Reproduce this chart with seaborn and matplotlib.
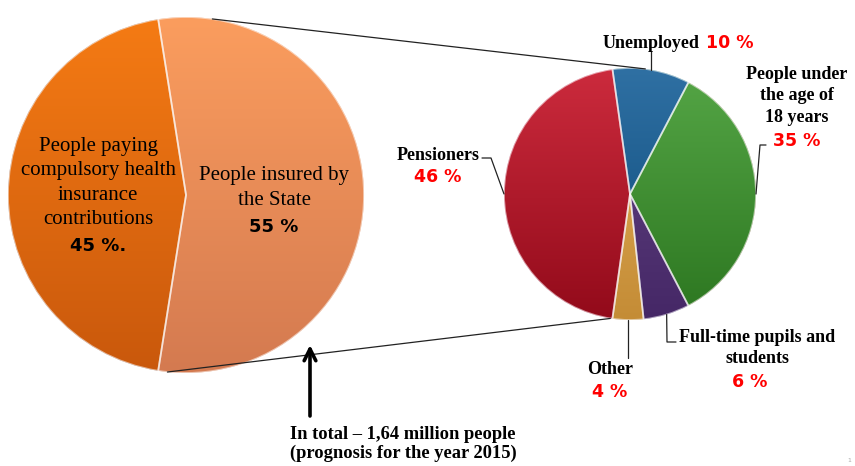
import numpy as np
import matplotlib
matplotlib.use("Agg")
import matplotlib.pyplot as plt
from matplotlib.patches import Wedge
from matplotlib.colors import to_rgba
import seaborn as sns

# --- data -------------------------------------------------------------
main_labels = ["People paying\ncompulsory health\ninsurance\ncontributions",
               "People insured by\nthe State"]
main_values = [45, 55]

state_labels = ["Unemployed", "People under\nthe age of\n18 years",
                "Full-time pupils and\nstudents", "Other", "Pensioners"]
state_values = [10, 35, 6, 4, 46]

total_note = "In total \u2013 1,64 million people\n(prognosis for the year 2015)"

# top / bottom shades for each slice (vertical gradient)
main_colors = [("#f57b14", "#c9580c"), ("#fb9d5e", "#d47a50")]
state_colors = [("#2f70a3", "#0b4878"), ("#55a646", "#2c7620"),
                ("#654786", "#452766"), ("#e6b05a", "#c48c36"),
                ("#cc2b3d", "#920a1a")]

# --- figure -----------------------------------------------------------
sns.set_theme(style="white")
W, H = 855, 466
fig = plt.figure(figsize=(W / 100, H / 100), dpi=100)
ax = fig.add_axes([0, 0, 1, 1])

SERIF = ["Liberation Serif", "DejaVu Serif"]
SANS = ["DejaVu Sans"]


def P(x, y):
    """Layout helper: pixel position measured from the top-left corner."""
    return x, H - y


def shaded_pie(values, center, radius, colors, start, counterclock, explode=None):
    wedges, _ = ax.pie(values, center=center, radius=radius, startangle=start,
                       counterclock=counterclock, explode=explode, frame=True,
                       wedgeprops=dict(linewidth=0, edgecolor="none"))
    for w, (c_top, c_bot) in zip(wedges, colors):
        top = np.array(to_rgba(c_top))
        bot = np.array(to_rgba(c_bot))
        t = np.linspace(0, 1, 256)[:, None]
        grad = (top * (1 - t) + bot * t)[:, None, :]
        wcx, wcy = w.center
        im = ax.imshow(grad, extent=[wcx - radius, wcx + radius,
                                     wcy - radius, wcy + radius],
                       origin="upper", aspect="auto", zorder=2,
                       interpolation="bilinear")
        im.set_clip_path(w)
        rim = Wedge(w.center, w.r, w.theta1, w.theta2, facecolor="none",
                    edgecolor=(1, 1, 1, 0.55), linewidth=1.3, zorder=3)
        ax.add_patch(rim)
    return wedges


def edge_point(center, radius, angle):
    a = np.deg2rad(angle)
    return center[0] + radius * np.cos(a), center[1] + radius * np.sin(a)


# main split
c_main, r_main = P(186, 195), 178
main_w = shaded_pie(main_values, c_main, r_main, main_colors,
                    start=180 - main_values[0] * 1.8, counterclock=True,
                    explode=[0, 0.03])

inner = dict(ha="center", va="center", fontsize=15, family=SERIF,
             color="black", linespacing=1.38, multialignment="center", zorder=5)
inner_pct = dict(ha="center", va="center", fontsize=13, family=SANS,
                 fontweight="bold", color="black", zorder=5)
ax.text(*P(98, 183), main_labels[0], **inner)
ax.text(*P(98, 246), f"{main_values[0]} %.", **inner_pct)
ax.text(*P(274, 188), main_labels[1], **inner)
ax.text(*P(274, 227), f"{main_values[1]} %", **inner_pct)

# breakdown of the state-insured group
c_st, r_st = P(630, 194), 126
st_w = shaded_pie(state_values, c_st, r_st, state_colors,
                  start=98, counterclock=False)

# connector lines between the two pies
lw_conn = dict(color="#222222", lw=0.9, zorder=4)
x0, y0 = edge_point(c_main, r_main, 81.5)
x1, y1 = edge_point(c_st, r_st, 83)
ax.plot([x0, x1], [y0, y1], **lw_conn)
x0, y0 = edge_point(c_main, r_main, -96)
x1, y1 = edge_point(c_st, r_st, -99)
ax.plot([x0, x1], [y0, y1], **lw_conn)

# leader lines from slice middles
mid = [(w.theta1 + w.theta2) / 2 for w in st_w]
anchors = [edge_point(c_st, r_st, m) for m in mid]
lead = dict(color="#222222", lw=0.9, zorder=4)

ax_, ay_ = anchors[0]
ax.plot([ax_, ax_], [ay_, P(0, 51)[1]], **lead)
ax_, ay_ = anchors[1]
ax.plot([ax_, 760, 766], [ay_, P(0, 145)[1], P(0, 145)[1]], **lead)
ax_, ay_ = anchors[2]
ax.plot([ax_, 667, 676], [ay_, P(0, 342)[1], P(0, 342)[1]], **lead)
ax_, ay_ = anchors[3]
ax.plot([ax_, ax_], [ay_, P(0, 358)[1]], **lead)
ax_, ay_ = anchors[4]
ax.plot([ax_, 491, 482], [ay_, P(0, 158)[1], P(0, 158)[1]], **lead)

lbl = dict(fontsize=13, family=SERIF, fontweight="bold", color="black",
           zorder=5, linespacing=1.35, multialignment="center")
pct = dict(fontsize=12.5, family=SANS, fontweight="bold", color="#ff0000",
           zorder=5)

ax.text(*P(699, 43), state_labels[0], ha="right", va="center", **lbl)
ax.text(*P(706, 43), f"{state_values[0]} %", ha="left", va="center", **pct)

ax.text(*P(797, 96), state_labels[1], ha="center", va="center", **lbl)
ax.text(*P(797, 141), f"{state_values[1]} %", ha="center", va="center", **pct)

ax.text(*P(757, 348), state_labels[2], ha="center", va="center", **lbl)
ax.text(*P(750, 382), f"{state_values[2]} %", ha="center", va="center", **pct)

ax.text(*P(610, 370), state_labels[3], ha="center", va="center", **lbl)
ax.text(*P(610, 392), f"{state_values[3]} %", ha="center", va="center", **pct)

ax.text(*P(438, 155), state_labels[4], ha="center", va="center", **lbl)
ax.text(*P(438, 177), f"{state_values[4]} %", ha="center", va="center", **pct)

# arrow and total note
ax.annotate("", xy=P(310, 345), xytext=P(310, 416),
            arrowprops=dict(arrowstyle="->,head_length=0.7,head_width=0.35",
                            color="black", lw=2.6, shrinkA=0, shrinkB=0),
            zorder=5)
ax.text(*P(403, 444), total_note, ha="center", va="center",
        fontsize=13.3, family=SERIF, fontweight="bold", color="black",
        linespacing=1.2, multialignment="center", zorder=5)

ax.text(*P(849, 461), "1", ha="center", va="center", fontsize=4.5,
        color="#aaaaaa", family=SANS)

ax.set_xlim(0, W)
ax.set_ylim(0, H)
ax.set_aspect("auto")
ax.axis("off")

fig.savefig("out.png", dpi=100)
